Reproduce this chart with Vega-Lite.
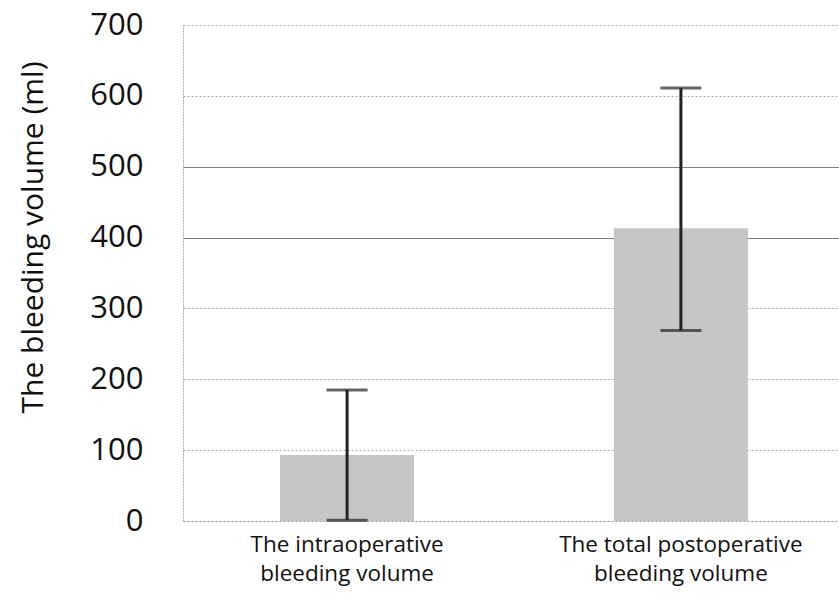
{
  "$schema": "https://vega.github.io/schema/vega-lite/v6.json",
  "width": 662,
  "height": 496,
  "autosize": {"type": "none"},
  "padding": {"left": 183, "top": 25, "right": 0, "bottom": 77},
  "background": "white",
  "data": {"values": [
    {"group": "The intraoperative bleeding volume", "mean": 93, "low": 1, "high": 185},
    {"group": "The total postoperative bleeding volume", "mean": 413, "low": 269, "high": 611}
  ]},
  "encoding": {
    "x": {"field": "group", "type": "nominal", "sort": null,
      "scale": {"paddingInner": 0.599, "paddingOuter": 0.291},
      "axis": {"title": null, "labelAngle": 0, "labelFont": "Open Sans", "labelFontSize": 22.5, "labelColor": "#111", "labelLimit": 400,
        "labelExpr": "datum.value == 'The intraoperative bleeding volume' ? ['The intraoperative', 'bleeding volume'] : ['The total postoperative', 'bleeding volume']",
        "labelLineHeight": 29, "labelPadding": 12, "ticks": false, "domain": true, "domainColor": "#999", "domainDash": [2, 2], "grid": false}}
  },
  "layer": [
    {"mark": {"type": "bar", "color": "#c6c6c6", "size": 134},
     "encoding": {"y": {"field": "mean", "type": "quantitative",
       "scale": {"domain": [0, 700], "nice": false},
       "axis": {"values": [0, 100, 200, 300, 400, 500, 600, 700], "title": "The bleeding volume (ml)",
         "titleFont": "Open Sans", "titleFontSize": 30, "titleFontWeight": "normal", "titleColor": "#111",
         "titleX": -150, "titleY": 212, "titleBaseline": "middle", "titleAlign": "center", "titleAngle": -90,
         "labelFont": "Open Sans", "labelFontSize": 31, "labelColor": "#111", "labelPadding": 40,
         "ticks": false, "domain": true, "domainColor": "#aaa", "domainDash": [2, 1],
         "grid": true,
         "gridColor": {"condition": {"test": "datum.value == 400 || datum.value == 500", "value": "#555"}, "value": "#aaa"},
         "gridDash": {"condition": {"test": "datum.value == 400 || datum.value == 500", "value": [1, 0]}, "value": [2, 2]},
         "gridWidth": 1}}}},
    {"mark": {"type": "rule", "color": "#222", "strokeWidth": 3},
     "encoding": {"y": {"field": "low", "type": "quantitative"}, "y2": {"field": "high"}}},
    {"mark": {"type": "tick", "color": "#222", "thickness": 3, "size": 41},
     "encoding": {"y": {"field": "low", "type": "quantitative"}}},
    {"mark": {"type": "tick", "color": "#222", "thickness": 3, "size": 41},
     "encoding": {"y": {"field": "high", "type": "quantitative"}}}
  ],
  "config": {"view": {"stroke": null}}
}
